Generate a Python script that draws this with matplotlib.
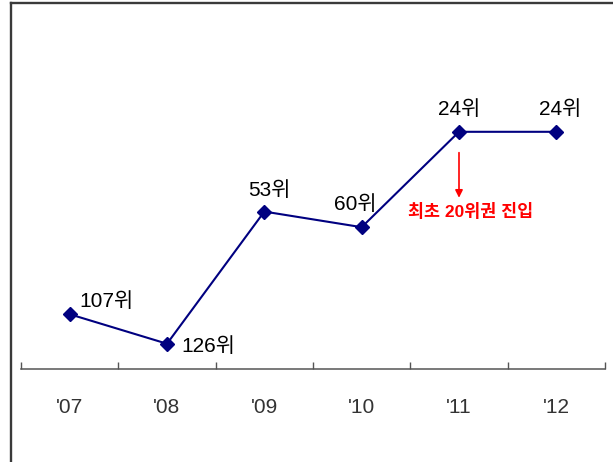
import numpy as np
import matplotlib
matplotlib.use("Agg")
import matplotlib.pyplot as plt
from matplotlib.lines import Line2D
from matplotlib.transforms import offset_copy

years = ["'07", "'08", "'09", "'10", "'11", "'12"]
ranks = [107, 126, 53, 60, 24, 24]
labels = ["107위", "126위", "53위", "60위", "24위", "24위"]
# label offsets from each point, in points
offsets = [(7, 9.5), (10.5, -2), (3.5, 15), (-4.5, 16.5), (0, 16), (3, 16)]
aligns = ["left", "left", "center", "center", "center", "center"]
note = "최초 20위권 진입"

fonts = ["Liberation Sans Narrow", "Liberation Sans", "Noto Sans CJK KR"]

fig = plt.figure(figsize=(6.13, 4.62), dpi=100)
ax = fig.add_axes([21 / 613, 93 / 462, 584 / 613, 357 / 462])

x = np.arange(len(years))
ax.plot(x, ranks, color="#000080", lw=1.5, marker="D", ms=6.8,
        mfc="#000080", mec="#000080", zorder=3)

# rank axis: best rank at the top, sqrt spacing
ax.set_yscale("function", functions=(np.sqrt, np.square))
ax.set_ylim(143.5, 1.75)
ax.set_xlim(-0.5, len(years) - 0.5)

for xi, r, lab, off, ha in zip(x, ranks, labels, offsets, aligns):
    ax.annotate(lab, (xi, r), xytext=off, textcoords="offset points",
                ha=ha, va="center", fontsize=15, family=fonts, color="black")

# arrow and note under the first top-20 year
tip = offset_copy(ax.transData, fig=fig, x=0, y=-47.5, units="points")
ax.annotate("", xy=(4, ranks[4]), xycoords=tip, xytext=(0, 32.5),
            textcoords="offset points",
            arrowprops=dict(arrowstyle="-|>", color="red", lw=1.2,
                            shrinkA=0, shrinkB=0, mutation_scale=11))
ax.annotate(note, (4, ranks[4]), xytext=(8.5, -57.5), textcoords="offset points",
            ha="center", va="center", fontsize=12.5, fontweight="bold",
            family=["Liberation Sans", "Noto Sans CJK KR"], color="red")

for s in ["left", "right", "top"]:
    ax.spines[s].set_visible(False)
ax.spines["bottom"].set_color("#555555")
ax.spines["bottom"].set_linewidth(1.1)
ax.set_yticks([])
ax.set_xticks(x)
ax.set_xticklabels(years, family=fonts, fontsize=15, color="#333333")
ax.tick_params(axis="x", which="major", length=0, pad=21)
ax.set_xticks(np.arange(-0.5, len(years)), minor=True)
ax.tick_params(axis="x", which="minor", direction="in", length=5,
               width=1.0, color="#555555")

# outer frame (left and top edges)
fig.add_artist(Line2D([11 / 613, 11 / 613], [0, 459 / 462], color="#3a3a3a", lw=1.7))
fig.add_artist(Line2D([11 / 613, 1], [459 / 462, 459 / 462], color="#3a3a3a", lw=1.7))

fig.savefig("out.png", dpi=100)
